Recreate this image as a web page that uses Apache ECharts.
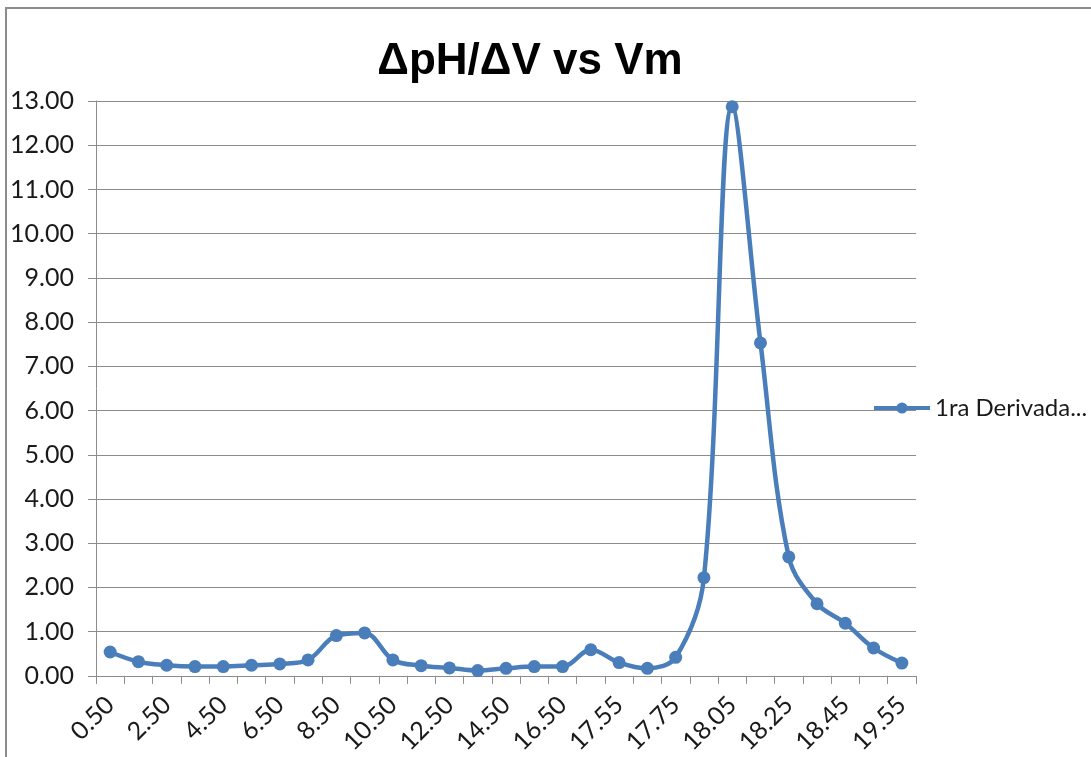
<!DOCTYPE html>
<html>
<head>
<meta charset="utf-8">
<script src="https://cdn.jsdelivr.net/npm/echarts@6/dist/echarts.min.js"></script>
<style>
  html, body { margin: 0; padding: 0; background: #ffffff; }
  #chart { width: 1091px; height: 757px; }
</style>
</head>
<body>
<div id="chart"></div>
<script>
// Mean volume (mL) for each interval of the titration
const categories = [
  '0.50', '1.50', '2.50', '3.50', '4.50', '5.50', '6.50', '7.50', '8.50', '9.50',
  '10.50', '11.50', '12.50', '13.50', '14.50', '15.50', '16.50', '17.25', '17.55', '17.65',
  '17.75', '17.90', '18.05', '18.15', '18.25', '18.35', '18.45', '19.05', '19.55'
];

// First derivative ΔpH/ΔV at each mean volume
const derivative = [
  0.54, 0.32, 0.24, 0.21, 0.21, 0.24, 0.27, 0.36, 0.91, 0.97,
  0.36, 0.23, 0.18, 0.12, 0.17, 0.21, 0.21, 0.59, 0.30, 0.17,
  0.42, 2.22, 12.87, 7.53, 2.69, 1.63, 1.19, 0.63, 0.29
];

const seriesName = '1ra Derivada...';
const titleText = 'ΔpH/ΔV vs Vm';

const lineColor = '#4a7ebb';
const gridColor = '#8c8c8c';
const textColor = '#1a1a1a';
const labelFont = 'Lato';

const chart = echarts.init(document.getElementById('chart'), null, { renderer: 'canvas' });

chart.setOption({
  animation: false,
  backgroundColor: '#ffffff',
  title: {
    text: titleText,
    left: 525,
    textAlign: 'center',
    top: 35,
    textStyle: {
      fontFamily: 'Liberation Sans',
      fontWeight: 'bold',
      fontSize: 44,
      color: '#000000'
    }
  },
  graphic: [{
    type: 'rect',
    shape: { x: 6, y: 8, width: 1200, height: 900 },
    style: { fill: 'none', stroke: '#8c8c8c', lineWidth: 2 },
    silent: true
  }],
  legend: {
    left: 872,
    top: 396,
    padding: 0,
    itemWidth: 56,
    itemHeight: 14,
    itemGap: 4,
    lineStyle: { width: 4 },
    textStyle: { fontFamily: labelFont, fontSize: 24, color: textColor },
    data: [seriesName]
  },
  grid: { left: 96, right: 175, top: 101, bottom: 81, containLabel: false },
  xAxis: {
    type: 'category',
    data: categories,
    boundaryGap: true,
    axisLine: { lineStyle: { color: gridColor, width: 1 } },
    axisTick: { show: true, interval: 0, length: 8, lineStyle: { color: gridColor } },
    axisLabel: {
      interval: 1,
      rotate: 45,
      margin: 25,
      fontFamily: labelFont,
      fontSize: 25,
      color: textColor
    },
    splitLine: { show: false }
  },
  yAxis: {
    type: 'value',
    min: 0,
    max: 13,
    interval: 1,
    axisLine: { show: true, lineStyle: { color: gridColor, width: 1 } },
    axisTick: { show: true, length: 8, lineStyle: { color: gridColor } },
    axisLabel: {
      margin: 22,
      fontFamily: labelFont,
      fontSize: 25,
      color: textColor,
      formatter: v => v.toFixed(2)
    },
    splitLine: { show: true, lineStyle: { color: gridColor, width: 1 } }
  },
  series: [{
    name: seriesName,
    type: 'line',
    data: derivative,
    smooth: 0.35,
    symbol: 'circle',
    symbolSize: 13,
    lineStyle: { color: lineColor, width: 4.5 },
    itemStyle: { color: lineColor }
  }]
});
</script>
</body>
</html>
